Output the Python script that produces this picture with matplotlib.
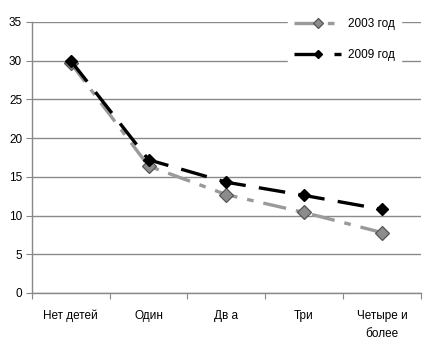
import matplotlib
matplotlib.use("Agg")
import matplotlib.pyplot as plt

categories = ["Нет детей", "Один", "Дв а", "Три", "Четыре и\nболее"]
series_2003 = [29.7, 16.4, 12.7, 10.4, 7.8]
series_2009 = [30.0, 17.2, 14.3, 12.6, 10.8]
labels = ["2003 год", "2009 год"]
yticks = [0, 5, 10, 15, 20, 25, 30, 35]

plt.rcParams['font.family'] = ['Liberation Sans', 'DejaVu Sans']

fig = plt.figure(figsize=(4.42, 3.53), dpi=100)
ax = fig.add_axes([0.072, 0.17, 0.88, 0.768])

x = list(range(len(categories)))
ax.plot(x, series_2003, color="#9a9a9a", lw=2.4, dashes=(7, 3, 2, 3),
        marker="D", ms=7, mfc="#8c8c8c", mec="#555555", mew=0.9, label=labels[0], zorder=3)
ax.plot(x, series_2009, color="black", lw=2.4, dashes=(8, 4),
        marker="D", ms=6.5, mfc="black", mec="black", label=labels[1], zorder=4)

ax.set_xlim(-0.5, len(categories) - 0.5)
ax.set_ylim(0, 35)
ax.set_yticks(yticks)
ax.set_xticks([i - 0.5 for i in range(len(categories) + 1)], minor=False)
ax.set_xticklabels([])
ax.set_xticks(x, minor=True)
ax.set_xticklabels(categories, minor=True, fontsize=8.5, linespacing=1.7)
ax.tick_params(axis="x", which="minor", length=0, pad=12)
ax.tick_params(axis="x", which="major", length=4, color="#888888")
ax.tick_params(axis="y", length=4, color="#888888", labelsize=8.5, pad=3)

ax.grid(axis="y", color="#8a8a8a", lw=1.0)
ax.set_axisbelow(True)
for s in ["top", "right"]:
    ax.spines[s].set_visible(False)
for s in ["left", "bottom"]:
    ax.spines[s].set_color("#888888")
    ax.spines[s].set_linewidth(1.0)

leg = ax.legend(loc="upper left", bbox_to_anchor=(288 / 442, 1 - 12 / 353),
                bbox_transform=fig.transFigure, frameon=True, fontsize=8.5,
                handlelength=4.0, handletextpad=0.6, labelspacing=1.6,
                borderpad=0.5, borderaxespad=0, markerscale=0.7)
leg.get_frame().set_facecolor("white")
leg.get_frame().set_edgecolor("white")
leg.get_frame().set_alpha(1)

fig.savefig("out.png", dpi=100)
